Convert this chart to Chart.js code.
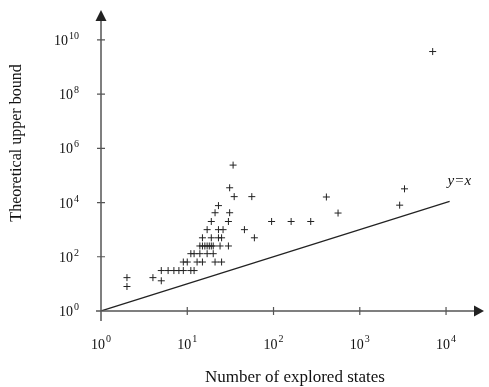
<!DOCTYPE html>
<html lang="en">
<head>
<meta charset="UTF-8">
<title>Explored states vs theoretical upper bound</title>
<script src="https://cdn.jsdelivr.net/npm/chart.js"></script>
<style>
  html, body { margin: 0; padding: 0; background: #ffffff; }
  #wrap { width: 489px; height: 387px; }
</style>
</head>
<body>
<div id="wrap"><canvas id="boundChart"></canvas></div>
<script>
  // explored states (x) and theoretical upper bound (y), one entry per run
  const exploredStates = [
    2, 2, 4, 5,
    5, 6, 7, 8, 9, 11, 12,
    9, 10, 13, 15, 21, 25,
    11, 12, 14, 17, 20,
    14, 15, 16, 17, 18, 19, 20, 24, 30,
    15, 19, 23, 25, 60,
    17, 23, 26, 46,
    19, 30, 95, 160, 270,
    21, 31, 23, 31, 35, 56, 34, 410, 560, 3300, 2900, 7000
  ];
  const upperBounds = [
    8, 17, 17, 13,
    31, 31, 31, 31, 31, 31, 31,
    64, 64, 64, 64, 64, 64,
    130, 130, 130, 130, 130,
    250, 250, 250, 250, 250, 250, 250, 250, 250,
    500, 500, 500, 500, 500,
    1000, 1000, 1000, 1000,
    2000, 2000, 2000, 2000, 2000,
    4200, 4200, 7700, 35000, 16500, 16500, 240000, 16000, 4100, 32000, 8000, 3.7e9
  ];
  const diagonalEnds = [1, 11000];
  const xTickExps = [0, 1, 2, 3, 4];
  const yTickExps = [0, 2, 4, 6, 8, 10];

  const serif = "'Liberation Serif', 'DejaVu Serif', serif";

  // axes with arrows, crossing ticks and 10^n labels
  const axesPlugin = {
    id: 'arrowAxes',
    afterDraw(chart) {
      const ctx = chart.ctx;
      const xs = chart.scales.x, ys = chart.scales.y;
      const area = chart.chartArea;
      const ox = xs.getPixelForValue(1), oy = ys.getPixelForValue(1);

      ctx.save();
      ctx.strokeStyle = '#555';
      ctx.fillStyle = '#222';
      ctx.lineWidth = 1.5;

      // axis lines
      ctx.beginPath();
      ctx.moveTo(ox - 5, oy);
      ctx.lineTo(area.right - 6, oy);
      ctx.moveTo(ox, oy + 10);
      ctx.lineTo(ox, area.top + 6);
      ctx.stroke();

      // arrow heads
      ctx.beginPath();
      ctx.moveTo(area.right, oy);
      ctx.lineTo(area.right - 10, oy - 5.5);
      ctx.lineTo(area.right - 10, oy + 5.5);
      ctx.closePath();
      ctx.fill();
      ctx.beginPath();
      ctx.moveTo(ox, area.top);
      ctx.lineTo(ox - 5.5, area.top + 11);
      ctx.lineTo(ox + 5.5, area.top + 11);
      ctx.closePath();
      ctx.fill();

      // ticks
      ctx.lineWidth = 1.2;
      ctx.beginPath();
      xTickExps.forEach(e => {
        if (e === 0) return;
        const px = xs.getPixelForValue(Math.pow(10, e));
        ctx.moveTo(px, oy - 4);
        ctx.lineTo(px, oy + 4);
      });
      yTickExps.forEach(e => {
        if (e === 0) return;
        const py = ys.getPixelForValue(Math.pow(10, e));
        ctx.moveTo(ox - 4, py);
        ctx.lineTo(ox + 4, py);
      });
      ctx.stroke();

      // tick labels
      const baseFont = '14px ' + serif;
      const expFont = '10px ' + serif;
      ctx.fillStyle = '#111';
      ctx.textBaseline = 'alphabetic';
      ctx.textAlign = 'left';

      xTickExps.forEach(e => {
        const px = xs.getPixelForValue(Math.pow(10, e));
        ctx.font = baseFont;
        const wb = ctx.measureText('10').width;
        ctx.font = expFont;
        const we = ctx.measureText(String(e)).width;
        const start = px - (wb + 1 + we) / 2;
        ctx.font = baseFont;
        ctx.fillText('10', start, oy + 38);
        ctx.font = expFont;
        ctx.fillText(String(e), start + wb + 1, oy + 31);
      });

      yTickExps.forEach(e => {
        const py = ys.getPixelForValue(Math.pow(10, e));
        ctx.font = baseFont;
        const wb = ctx.measureText('10').width;
        ctx.font = expFont;
        const we = ctx.measureText(String(e)).width;
        const right = ox - 22;
        ctx.font = expFont;
        ctx.fillText(String(e), right - we, py - 1);
        ctx.font = baseFont;
        ctx.fillText('10', right - we - 1 - wb, py + 5);
      });

      // axis titles
      ctx.textAlign = 'center';
      ctx.textBaseline = 'middle';
      ctx.font = '17px ' + serif;
      ctx.fillText('Number of explored states', 295, 378);
      ctx.save();
      ctx.translate(17, 143);
      ctx.rotate(-Math.PI / 2);
      ctx.font = '16px ' + serif;
      ctx.fillText('Theoretical upper bound', 0, 0);
      ctx.restore();

      // y=x label near the end of the diagonal
      const ex = xs.getPixelForValue(diagonalEnds[1]);
      const ey = ys.getPixelForValue(diagonalEnds[1]);
      ctx.font = 'italic 15px ' + serif;
      ctx.textAlign = 'left';
      ctx.fillText('y=x', ex - 2, ey - 20);
      ctx.restore();
    }
  };

  new Chart(document.getElementById('boundChart'), {
    type: 'scatter',
    data: {
      datasets: [
        {
          label: 'Runs',
          data: exploredStates.map((x, i) => ({ x: x, y: upperBounds[i] })),
          pointStyle: 'cross',
          pointRadius: 3.5,
          borderWidth: 1,
          borderColor: '#222',
          backgroundColor: '#222'
        },
        {
          label: 'y=x',
          data: diagonalEnds.map(v => ({ x: v, y: v })),
          showLine: true,
          pointRadius: 0,
          borderWidth: 1.2,
          borderColor: '#222'
        }
      ]
    },
    options: {
      responsive: true,
      maintainAspectRatio: false,
      animation: false,
      layout: { padding: { left: 101, right: 2, top: 10, bottom: 76 } },
      plugins: {
        legend: { display: false },
        tooltip: { enabled: false }
      },
      scales: {
        x: { type: 'logarithmic', min: 1, max: Math.pow(10, 4.44), display: false },
        y: { type: 'logarithmic', min: 1, max: Math.pow(10, 11.1), display: false }
      }
    },
    plugins: [axesPlugin]
  });
</script>
</body>
</html>
